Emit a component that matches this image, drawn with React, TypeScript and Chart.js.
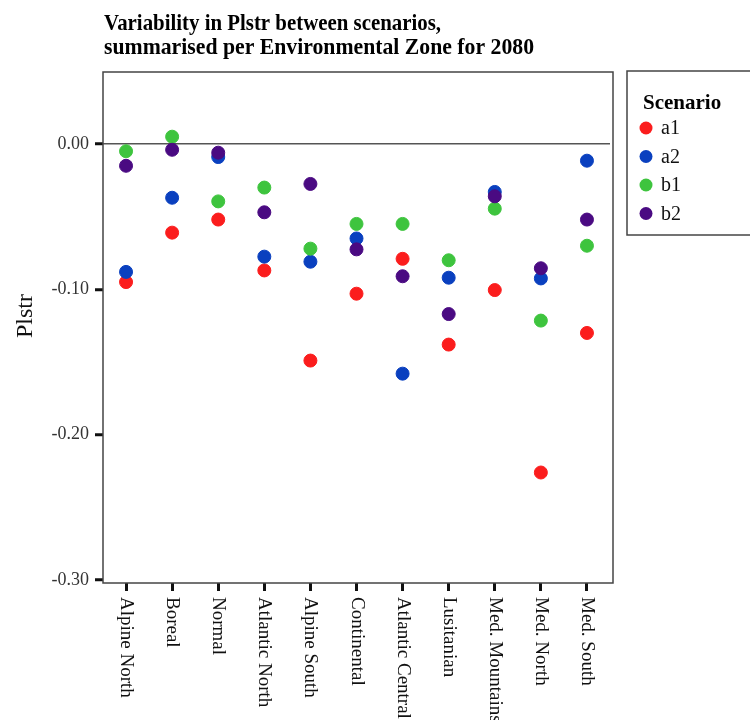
import React, { useEffect, useRef } from "react";
import { Chart, registerables } from "chart.js";

Chart.register(...registerables);

const categories = [
  "Alpine North",
  "Boreal",
  "Normal",
  "Atlantic North",
  "Alpine South",
  "Continental",
  "Atlantic Central",
  "Lusitanian",
  "Med. Mountains",
  "Med. North",
  "Med. South",
];

const scenarioNames = ["a1", "a2", "b1", "b2"];
const scenarioColors = ["#fb1d1d", "#0a40bf", "#3ec43e", "#4a0a82"];

const a1 = [-0.095, -0.061, -0.052, -0.087, -0.149, -0.103, -0.079, -0.138, -0.1005, -0.226, -0.13];
const a2 = [-0.088, -0.037, -0.009, -0.0775, -0.081, -0.065, -0.158, -0.092, -0.033, -0.0925, -0.0115];
const b1 = [-0.005, 0.005, -0.0395, -0.03, -0.072, -0.055, -0.055, -0.08, -0.0445, -0.1215, -0.07];
const b2 = [-0.015, -0.004, -0.006, -0.047, -0.0275, -0.0725, -0.091, -0.117, -0.036, -0.0855, -0.052];

const yTicks = [-0.3, -0.2, -0.1, 0];
const titleLines = [
  "Variability in Plstr between scenarios,",
  "summarised per Environmental Zone for 2080",
];
const yTitle = "Plstr";
const legendTitle = "Scenario";

const SERIF = '"Liberation Serif", "Times New Roman", serif';

const decorPlugin = {
  id: "decor",
  afterDraw(chart: any) {
    const ctx = chart.ctx;
    const area = chart.chartArea;
    const xs = chart.scales.x;
    ctx.save();
    // plot box
    ctx.strokeStyle = "#444";
    ctx.lineWidth = 1.5;
    ctx.strokeRect(area.left, area.top, area.right + 3 - area.left, area.bottom - area.top);

    // x labels rotated clockwise
    ctx.fillStyle = "#111";
    ctx.font = "19px " + SERIF;
    ctx.textAlign = "left";
    ctx.textBaseline = "middle";
    categories.forEach((lab, i) => {
      const x = xs.getPixelForTick(i);
      ctx.save();
      ctx.translate(x, area.bottom + 14);
      ctx.rotate(Math.PI / 2);
      ctx.fillText(lab, 0, 0);
      ctx.restore();
    });

    // title (condensed, tall)
    ctx.font = "bold 23px " + SERIF;
    ctx.textAlign = "left";
    ctx.textBaseline = "alphabetic";
    ctx.fillStyle = "#000";
    const targets = [337, 430];
    const baselines = [30, 54];
    titleLines.forEach((t, i) => {
      const w = ctx.measureText(t).width;
      ctx.save();
      ctx.translate(104, baselines[i]);
      ctx.scale(targets[i] / w, 1);
      ctx.fillText(t, 0, 0);
      ctx.restore();
    });

    // y title
    ctx.save();
    ctx.translate(26, 316);
    ctx.rotate(-Math.PI / 2);
    ctx.font = "24px " + SERIF;
    ctx.textAlign = "center";
    ctx.textBaseline = "middle";
    ctx.fillStyle = "#111";
    ctx.fillText(yTitle, 0, 0);
    ctx.restore();

    // legend
    const lx = 627;
    const ly = 71;
    ctx.strokeStyle = "#444";
    ctx.lineWidth = 1.5;
    ctx.strokeRect(lx, ly, 140, 164);
    ctx.font = "bold 21px " + SERIF;
    ctx.fillStyle = "#000";
    ctx.textBaseline = "alphabetic";
    ctx.fillText(legendTitle, 643, 109);
    ctx.font = "20px " + SERIF;
    chart.data.datasets.forEach((ds: any, i: number) => {
      const cy = 128 + i * 28.5;
      ctx.beginPath();
      ctx.arc(646, cy, 6.5, 0, Math.PI * 2);
      ctx.fillStyle = ds.backgroundColor;
      ctx.fill();
      ctx.fillStyle = "#111";
      ctx.textBaseline = "middle";
      ctx.fillText(ds.label, 661, cy + 1);
    });
    ctx.restore();
  },
};

export default function App() {
  const ref = useRef<HTMLCanvasElement | null>(null);
  useEffect(() => {
    if (!ref.current) return;
    const series = [a1, a2, b1, b2];
    const chart = new Chart(ref.current, {
      type: "line",
      data: {
        labels: categories,
        datasets: series.map((d, i) => ({
          label: scenarioNames[i],
          data: d,
          showLine: false,
          backgroundColor: scenarioColors[i],
          borderColor: scenarioColors[i],
          pointRadius: 6.5,
          pointBorderWidth: 1,
          pointHoverRadius: 6.5,
          order: 4 - i,
        })),
      },
      options: {
        animation: false,
        responsive: true,
        maintainAspectRatio: false,
        layout: { padding: { left: 0, top: 72, right: 140, bottom: 0 } },
        plugins: {
          legend: { display: false },
          title: { display: false },
          tooltip: { enabled: false },
        },
        scales: {
          x: {
            type: "category",
            offset: true,
            border: { display: false },
            grid: {
              display: true,
              drawOnChartArea: false,
              drawTicks: true,
              tickLength: 8,
              tickWidth: 3,
              tickColor: "#111",
              offset: false,
            },
            ticks: { display: false },
            afterFit: (s: any) => {
              s.height = 137;
            },
          },
          y: {
            type: "linear",
            min: -0.302,
            max: 0.0495,
            border: { display: false },
            afterBuildTicks: (s: any) => {
              s.ticks = yTicks.map((v) => ({ value: v }));
            },
            afterFit: (s: any) => {
              s.width = 103;
            },
            grid: {
              drawOnChartArea: true,
              drawTicks: true,
              tickLength: 8,
              tickWidth: 3,
              tickColor: "#111",
              lineWidth: 1.5,
              color: (c: any) => (c.tick && c.tick.value === 0 ? "#555" : "rgba(0,0,0,0)"),
            },
            ticks: {
              padding: 6,
              color: "#333",
              font: { family: SERIF, size: 18 },
              callback: (v: any) => Number(v).toFixed(2),
            },
          },
        },
      },
      plugins: [decorPlugin],
    });
    return () => chart.destroy();
  }, []);
  return (
    <div style={{ position: "fixed", left: 0, top: 0, width: 750, height: 720, background: "#fff" }}>
      <canvas ref={ref} />
    </div>
  );
}
